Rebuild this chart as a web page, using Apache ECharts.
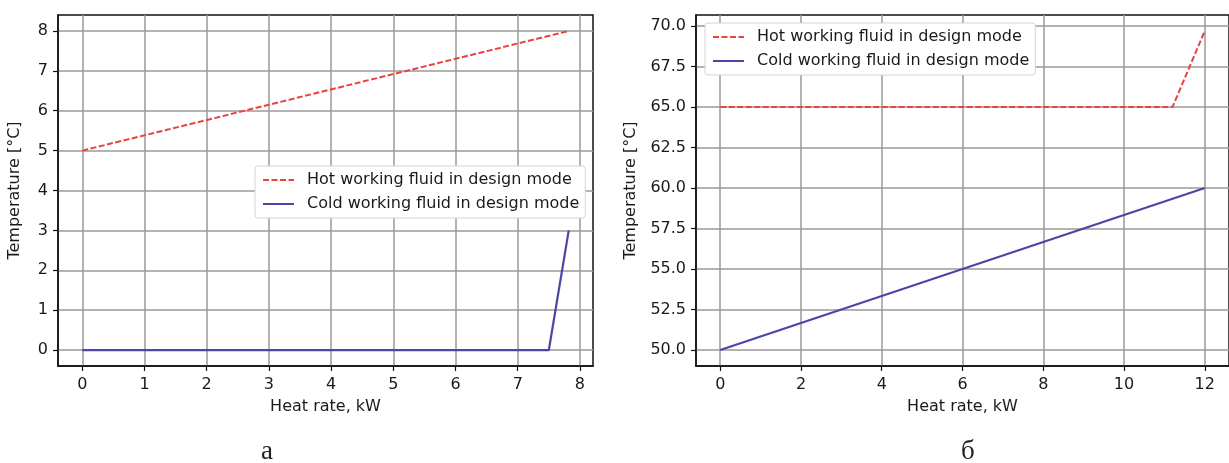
<!DOCTYPE html>
<html>
<head>
<meta charset="utf-8">
<script src="https://cdn.jsdelivr.net/npm/echarts@6/dist/echarts.min.js"></script>
<style>
html, body { margin: 0; padding: 0; background: #fff; }
#chart { width: 1229px; height: 463px; }
</style>
</head>
<body>
<div id="chart"></div>
<script>
/* data */

// panel a
var aHotHeat = [0, 7.82];
var aHotTemp = [5, 8];
var aColdHeat = [0, 7.5, 7.82];
var aColdTemp = [0, 0, 3];
var aXTicks = [0, 1, 2, 3, 4, 5, 6, 7, 8];
var aYTicks = [0, 1, 2, 3, 4, 5, 6, 7, 8];

// panel б
var bHotHeat = [0, 11.2, 12];
var bHotTemp = [65, 65, 69.7];
var bColdHeat = [0, 12];
var bColdTemp = [50, 60];
var bXTicks = [0, 2, 4, 6, 8, 10, 12];
var bYTicks = [50, 52.5, 55, 57.5, 60, 62.5, 65, 67.5, 70];

var hotName = 'Hot working fluid in design mode';
var coldName = 'Cold working fluid in design mode';
var captions = ['а', 'б'];

var font = 'DejaVu Sans';
var txt = '#1a1a1a';
var gridColor = '#9d9898';
var hotColor = '#e8433f';
var coldColor = '#4a46a8';

function pairs(xs, ys) {
    return xs.map(function (x, i) { return [x, ys[i]]; });
}

function xAxisFor(idx, min, max, ticks) {
    return {
        type: 'value', gridIndex: idx, min: min, max: max,
        name: 'Heat rate, kW', nameLocation: 'middle', nameGap: 33,
        nameTextStyle: { fontFamily: font, fontSize: 16, color: txt },
        axisLine: { show: true, onZero: false, lineStyle: { color: '#111', width: 1.5 } },
        axisTick: { show: true, length: 5, customValues: ticks, lineStyle: { color: '#111', width: 1.2 } },
        axisLabel: { customValues: ticks, margin: 11, fontFamily: font, fontSize: 16, color: txt },
        splitLine: { show: true, lineStyle: { color: gridColor, width: 1.5 } }
    };
}

function yAxisFor(idx, min, max, ticks, gap, fmt) {
    return {
        type: 'value', gridIndex: idx, min: min, max: max,
        name: 'Temperature [°C]', nameLocation: 'middle', nameGap: gap,
        nameTextStyle: { fontFamily: font, fontSize: 16, color: txt },
        axisLine: { show: true, onZero: false, lineStyle: { color: '#111', width: 1.5 } },
        axisTick: { show: true, length: 5, customValues: ticks, lineStyle: { color: '#111', width: 1.2 } },
        axisLabel: { customValues: ticks, margin: 10, fontFamily: font, fontSize: 16, color: txt,
            formatter: fmt },
        splitLine: { show: true, lineStyle: { color: gridColor, width: 1.5 } }
    };
}

function legendAt(left, top) {
    return {
        data: [hotName, coldName],
        orient: 'vertical', left: left, top: top,
        itemWidth: 31, itemHeight: 12, itemGap: 8,
        padding: [6, 6, 6, 7],
        itemStyle: { opacity: 0 },
        backgroundColor: '#fff', borderColor: '#d4d4d4', borderWidth: 1, borderRadius: 3,
        textStyle: { fontFamily: font, fontSize: 16, color: txt, padding: [0, 0, 0, 8] }
    };
}

function lineSeries(name, idx, data, color, dashed) {
    return {
        name: name, type: 'line', xAxisIndex: idx, yAxisIndex: idx,
        data: data, symbol: 'none', animation: false, z: 5,
        lineStyle: { color: color, width: dashed ? 2 : 2.2, type: dashed ? [6, 2.5] : 'solid' },
        itemStyle: { color: color }
    };
}

var chart = echarts.init(document.getElementById('chart'));

var option = {
    backgroundColor: '#fff',
    animation: false,
    grid: [
        { left: 58, top: 15, width: 535, height: 351, show: true, borderColor: '#111', borderWidth: 1.5, backgroundColor: '#fff' },
        { left: 696, top: 15, width: 535, height: 351, show: true, borderColor: '#111', borderWidth: 1.5, backgroundColor: '#fff' }
    ],
    xAxis: [
        xAxisFor(0, -0.39, 8.21, aXTicks),
        xAxisFor(1, -0.6, 12.6, bXTicks)
    ],
    yAxis: [
        yAxisFor(0, -0.4, 8.4, aYTicks, 35, function (v) { return String(v); }),
        yAxisFor(1, 49.015, 70.685, bYTicks, 57, function (v) { return v.toFixed(1); })
    ],
    legend: [
        legendAt(255, 166),
        legendAt(705, 23)
    ],
    graphic: [
        { type: 'text', left: 261, top: 438, style: { text: captions[0], font: '27px "Liberation Serif"', fill: '#222' } },
        { type: 'text', left: 961, top: 438, style: { text: captions[1], font: '27px "Liberation Serif"', fill: '#222' } }
    ],
    series: [
        lineSeries(hotName, 0, pairs(aHotHeat, aHotTemp), hotColor, true),
        lineSeries(coldName, 0, pairs(aColdHeat, aColdTemp), coldColor, false),
        lineSeries(hotName, 1, pairs(bHotHeat, bHotTemp), hotColor, true),
        lineSeries(coldName, 1, pairs(bColdHeat, bColdTemp), coldColor, false)
    ]
};

chart.setOption(option);
</script>
</body>
</html>
